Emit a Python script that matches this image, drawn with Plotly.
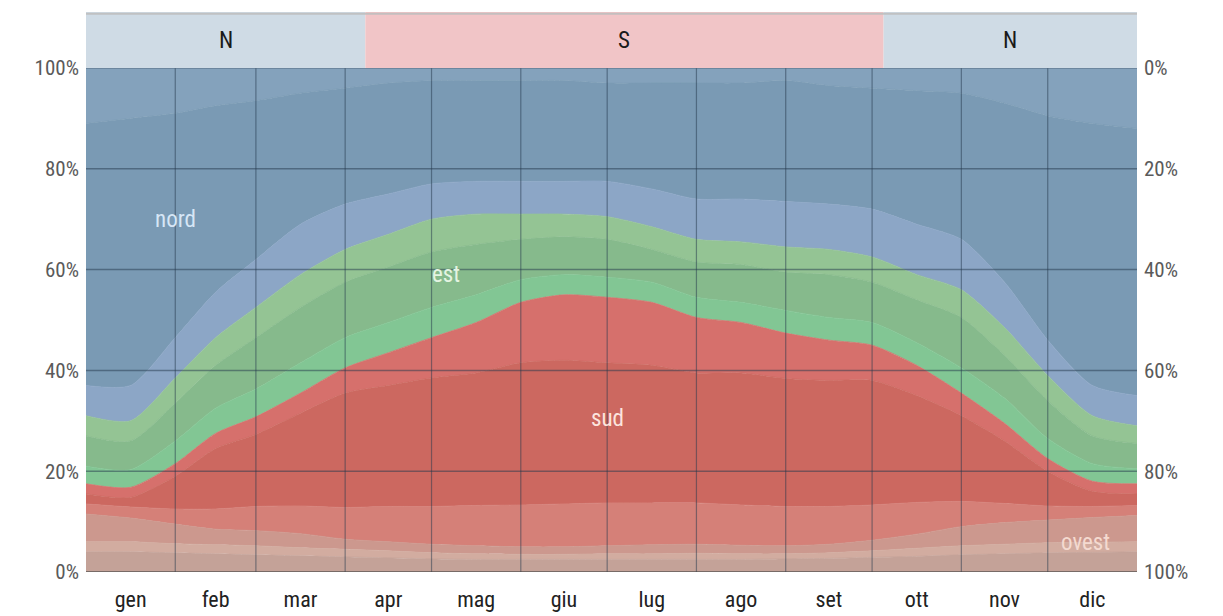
import plotly.graph_objects as go

# ---------------- data ----------------
days = [0, 15.5, 31, 45, 59, 74.5, 90, 105, 120, 135.5, 151, 166, 181,
        196.5, 212, 227.5, 243, 258, 273, 288.5, 304, 319, 334, 349.5, 365]

months = ["gen", "feb", "mar", "apr", "mag", "giu", "lug", "ago", "set", "ott", "nov", "dic"]
month_mid = [15.5, 45, 74.5, 105, 135.5, 166, 196.5, 227.5, 258, 288.5, 319, 349.5]
month_edges = [31, 59, 90, 120, 151, 181, 212, 243, 273, 304, 334]
y_ticks = [0, 20, 40, 60, 80, 100]

# band thicknesses (percent), bottom to top
ovest_1 = [4.0, 4.0, 3.8, 3.6, 3.4, 3.2, 3.0, 2.8, 2.6, 2.5, 2.5, 2.5, 2.5, 2.5, 2.5, 2.5, 2.6, 2.7, 2.9, 3.1, 3.4, 3.6, 3.8, 3.9, 4.0]
ovest_2 = [2.0, 2.0, 1.8, 1.8, 1.8, 1.6, 1.5, 1.4, 1.2, 1.1, 1.0, 1.0, 1.1, 1.1, 1.2, 1.1, 1.0, 1.1, 1.3, 1.6, 1.8, 1.9, 2.0, 2.0, 2.0]
ovest_3 = [5.5, 4.7, 3.9, 3.1, 3.0, 2.8, 2.0, 1.8, 1.7, 1.6, 1.5, 1.5, 1.6, 1.8, 1.8, 1.7, 1.6, 1.7, 2.1, 2.8, 3.8, 4.3, 4.5, 4.9, 5.2]
sud_1 = [2.0, 2.2, 3.0, 4.0, 4.8, 5.5, 6.3, 7.0, 7.5, 8.0, 8.3, 8.5, 8.5, 8.3, 8.2, 8.0, 7.8, 7.5, 7.0, 6.3, 5.0, 3.8, 2.8, 2.2, 2.0]
sud_2 = [2.0, 1.9, 6.5, 12.0, 14.3, 18.4, 22.7, 24.0, 25.5, 26.3, 28.2, 28.5, 27.8, 27.3, 25.8, 26.2, 25.4, 25.0, 24.7, 21.2, 17.0, 12.4, 6.9, 3.0, 2.3]
sud_3 = [2.0, 2.0, 2.5, 3.0, 3.5, 4.0, 5.0, 6.5, 8.0, 10.0, 12.0, 13.0, 13.0, 12.5, 11.0, 10.0, 9.0, 8.0, 7.0, 6.0, 4.5, 3.5, 2.5, 2.0, 2.0]
est_1 = [3.5, 3.5, 4.5, 5.0, 5.5, 6.0, 6.0, 6.0, 6.0, 5.5, 4.5, 4.0, 4.0, 4.0, 4.0, 4.0, 4.5, 4.5, 4.5, 4.5, 5.0, 5.0, 4.0, 3.5, 3.0]
est_2 = [6.0, 5.7, 7.5, 8.5, 10.2, 11.0, 11.0, 11.0, 11.0, 10.0, 8.0, 7.5, 7.5, 6.5, 7.0, 7.5, 7.6, 8.5, 8.0, 8.5, 10.0, 8.5, 7.5, 5.5, 5.0]
est_3 = [4.0, 4.0, 5.0, 5.5, 6.0, 6.5, 6.5, 6.5, 6.5, 6.0, 5.0, 4.5, 4.5, 4.5, 4.5, 4.5, 5.0, 5.0, 5.0, 5.0, 5.5, 5.5, 5.0, 4.0, 3.5]
nord_1 = [6.0, 7.0, 8.0, 9.0, 9.5, 10.0, 9.0, 8.0, 7.0, 6.5, 6.5, 6.5, 7.0, 7.5, 8.0, 8.5, 9.0, 9.0, 9.5, 10.0, 10.0, 9.0, 7.0, 6.0, 6.0]
nord_2 = [52.0, 53.0, 44.5, 37.0, 31.5, 26.0, 23.0, 22.0, 20.5, 20.0, 20.0, 20.0, 19.5, 21.0, 23.0, 23.0, 24.0, 23.5, 24.0, 26.5, 29.0, 35.5, 44.5, 52.0, 53.0]
nord_3 = [11.0, 10.0, 9.0, 7.5, 6.5, 5.0, 4.0, 3.0, 2.5, 2.5, 2.5, 2.5, 3.0, 3.0, 3.0, 3.0, 2.5, 3.5, 4.0, 4.5, 5.0, 7.0, 9.5, 11.0, 12.0]

# header: solar exposure seasons
header_labels = ["N", "S", "N"]
header_start = [0, 97, 277]
header_end = [97, 277, 365]

# direction labels
dir_labels = ["nord", "est", "sud", "ovest"]
dir_x = [31, 125, 181, 347]
dir_y = [70, 59, 30.5, 5.8]

# ---------------- styling ----------------
bands = [
    ("ovest_1", ovest_1, "rgb(196,162,152)"),
    ("ovest_2", ovest_2, "rgb(210,172,160)"),
    ("ovest_3", ovest_3, "rgb(204,152,142)"),
    ("sud_1", sud_1, "rgb(213,128,120)"),
    ("sud_2", sud_2, "rgb(204,104,96)"),
    ("sud_3", sud_3, "rgb(214,112,108)"),
    ("est_1", est_1, "rgb(130,198,148)"),
    ("est_2", est_2, "rgb(134,186,140)"),
    ("est_3", est_3, "rgb(148,196,148)"),
    ("nord_1", nord_1, "rgb(140,166,198)"),
    ("nord_2", nord_2, "rgb(122,154,180)"),
    ("nord_3", nord_3, "rgb(132,162,188)"),
]
header_colors = {"N": "rgb(207,219,229)", "S": "rgb(241,197,199)"}
dir_colors = ["rgb(214,230,246)", "rgb(228,244,226)", "rgb(252,228,222)", "rgb(244,218,208)"]
FONT = "Liberation Sans Narrow, Roboto Condensed, Liberation Sans, Arial, sans-serif"

fig = go.Figure()
for name, vals, col in bands:
    fig.add_trace(go.Scatter(
        x=days, y=vals, name=name, stackgroup="one", mode="lines",
        line=dict(width=0.8, color=col, shape="spline", smoothing=0.7),
        fillcolor=col, hoverinfo="skip", showlegend=False,
    ))

# invisible trace to activate right axis
fig.add_trace(go.Scatter(x=[0], y=[0], yaxis="y2", mode="markers",
                         marker=dict(opacity=0), showlegend=False, hoverinfo="skip"))

shapes = []
# grid lines drawn above the areas
for e in month_edges:
    shapes.append(dict(type="line", xref="x", yref="y", x0=e, x1=e, y0=-1.2, y1=100,
                       line=dict(color="rgba(35,55,75,0.5)", width=1.2), layer="above"))
for t in y_ticks[1:-1]:
    shapes.append(dict(type="line", xref="x", yref="y", x0=0, x1=365, y0=t, y1=t,
                       line=dict(color="rgba(35,55,75,0.5)", width=1.5), layer="above"))
shapes.append(dict(type="line", xref="x", yref="y", x0=0, x1=365, y0=0, y1=0,
                   line=dict(color="rgba(70,70,70,0.8)", width=1.5), layer="above"))
shapes.append(dict(type="line", xref="x", yref="y", x0=0, x1=365, y0=100, y1=100,
                   line=dict(color="rgba(80,100,120,0.6)", width=1.5), layer="above"))
# header band
for lab, s, e in zip(header_labels, header_start, header_end):
    shapes.append(dict(type="rect", xref="x", yref="paper", x0=s, x1=e, y0=0.9, y1=1.0,
                       fillcolor=header_colors[lab], line=dict(width=0), layer="below"))
shapes.append(dict(type="line", xref="x", yref="paper", x0=0, x1=365, y0=0.997, y1=0.997,
                   line=dict(color="rgba(190,190,190,0.9)", width=2)))

annotations = []
for lab, s, e in zip(header_labels, header_start, header_end):
    annotations.append(dict(x=(s + e) / 2, y=0.95, xref="x", yref="paper", text=lab,
                            xanchor="center", yanchor="middle", showarrow=False,
                            font=dict(family=FONT, size=23, color="#1a1a1a")))
for lab, x, y, c in zip(dir_labels, dir_x, dir_y, dir_colors):
    annotations.append(dict(x=x, y=y, xref="x", yref="y", text=lab, showarrow=False,
                            xanchor="center", yanchor="middle",
                            font=dict(family=FONT, size=23, color=c)))

# the page body adds an 8px offset, so the figure is 8px smaller on each side
fig.update_layout(
    width=1215, height=608,
    margin=dict(l=78, r=86, t=4, b=44, autoexpand=False),
    paper_bgcolor="white", plot_bgcolor="white",
    shapes=shapes, annotations=annotations,
    xaxis=dict(range=[0, 365], tickmode="array", tickvals=month_mid, ticktext=months,
               showgrid=False, zeroline=False, showline=False, ticks="", automargin=False,
               tickfont=dict(family=FONT, size=22, color="#222"), ticklabelstandoff=12,
               fixedrange=True),
    yaxis=dict(range=[0, 100], domain=[0, 0.9], tickmode="array", tickvals=y_ticks,
               ticktext=[f"{t}%" for t in y_ticks], showgrid=False, zeroline=False,
               showline=False, ticks="", automargin=False,
               tickfont=dict(family=FONT, size=21, color="#5a5a5a"), ticklabelstandoff=6),
    yaxis2=dict(range=[100, 0], domain=[0, 0.9], overlaying="y", side="right", anchor="x",
                tickmode="array", tickvals=y_ticks, ticktext=[f"{t}%" for t in y_ticks],
                showgrid=False, zeroline=False, showline=False, ticks="", automargin=False,
                tickfont=dict(family=FONT, size=21, color="#5a5a5a"), ticklabelstandoff=6),
)

fig.write_html("out.html")
